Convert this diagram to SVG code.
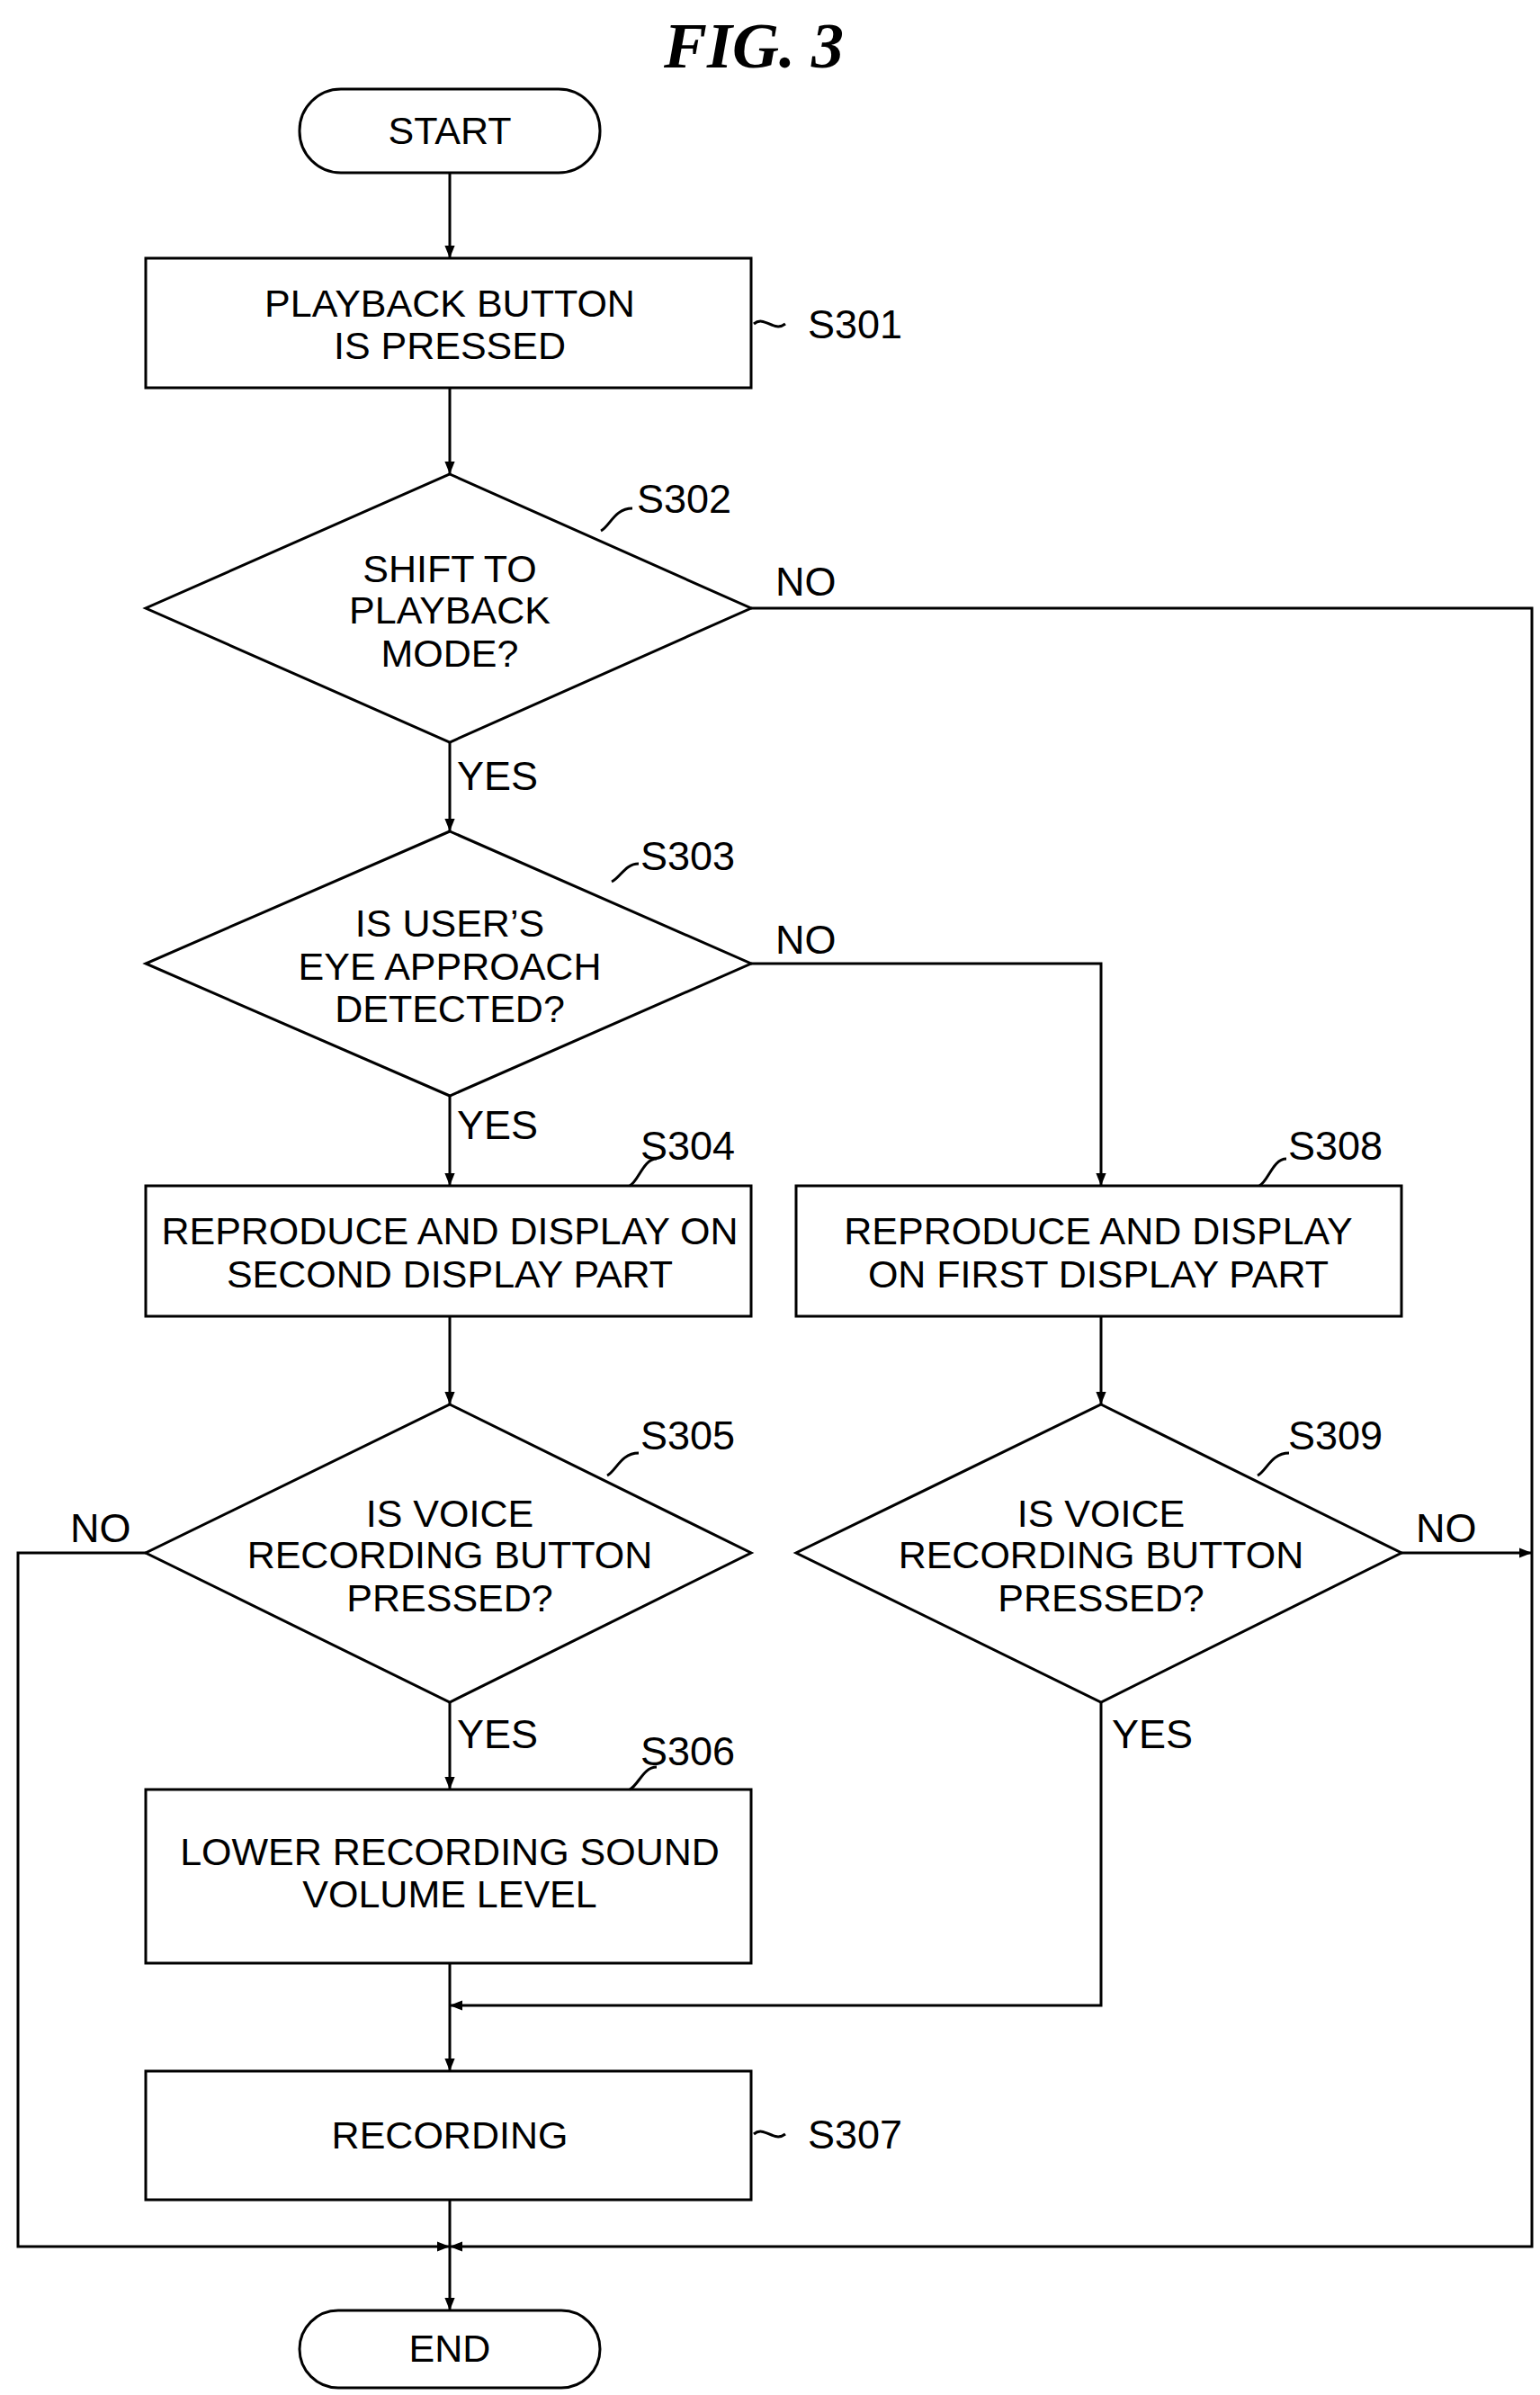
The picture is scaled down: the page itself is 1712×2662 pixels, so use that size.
<svg xmlns="http://www.w3.org/2000/svg" width="1712" height="2662" viewBox="0 0 1712 2662">
<style>
.s{fill:#fff;stroke:#000;stroke-width:3}
.l{fill:none;stroke:#000;stroke-width:3}
.t{font-family:"Liberation Sans",Arial,sans-serif;font-size:43px;text-anchor:middle;fill:#000}
.r{font-family:"Liberation Sans",Arial,sans-serif;font-size:45px;fill:#000}
</style>
<defs><marker id="b" viewBox="0 0 10 10" refX="10" refY="5" markerWidth="14" markerHeight="14" orient="auto" markerUnits="userSpaceOnUse"><path d="M0,1L10,5L0,9z" fill="#000"/></marker></defs>
<text x="838" y="75" font-family="Liberation Serif,serif" font-size="72" font-weight="bold" font-style="italic" text-anchor="middle">FIG. 3</text>
<g id="connectors">
<path class="l" d="M500,192V287" marker-end="url(#b)"/>
<path class="l" d="M500,431V527" marker-end="url(#b)"/>
<path class="l" d="M500,825V924" marker-end="url(#b)"/>
<path class="l" d="M835,1071H1224V1318" marker-end="url(#b)"/>
<path class="l" d="M500,1218V1318" marker-end="url(#b)"/>
<path class="l" d="M500,1463V1561" marker-end="url(#b)"/>
<path class="l" d="M500,1892V1989" marker-end="url(#b)"/>
<path class="l" d="M1224,1463V1561" marker-end="url(#b)"/>
<path class="l" d="M500,2182V2302" marker-end="url(#b)"/>
<path class="l" d="M1224,1892V2229H500" marker-end="url(#b)"/>
<path class="l" d="M500,2445V2568" marker-end="url(#b)"/>
<path class="l" d="M162,1726H20V2497H500" marker-end="url(#b)"/>
<path class="l" d="M835,676H1703V2497H500" marker-end="url(#b)"/>
<path class="l" d="M1558,1726H1703" marker-end="url(#b)"/>
<text class="r" x="862" y="662">NO</text>
<text class="r" x="862" y="1060">NO</text>
<text class="r" x="78" y="1714">NO</text>
<text class="r" x="1574" y="1714">NO</text>
<text class="r" x="508" y="878">YES</text>
<text class="r" x="508" y="1266">YES</text>
<text class="r" x="508" y="1943">YES</text>
<text class="r" x="1236" y="1943">YES</text>
</g>
<g id="start"><rect class="s" x="333" y="99" width="334" height="93" rx="46"/><text class="t" x="500" y="160">START</text></g>
<g id="s301"><rect class="s" x="162" y="287" width="673" height="144"/><text class="t" x="500" y="352">PLAYBACK BUTTON</text><text class="t" x="500" y="399">IS PRESSED</text><path class="l" d="M838,360c12,-10 22,10 35,0"/><text class="r" x="898" y="376">S301</text></g>
<g id="s302"><path class="s" d="M500,527L835,676L500,825L162,676z"/><text class="t" x="500" y="647">SHIFT TO</text><text class="t" x="500" y="693">PLAYBACK</text><text class="t" x="500" y="741">MODE?</text><path class="l" d="M668,590c10,-5 15,-25 35,-25"/><text class="r" x="708" y="570">S302</text></g>
<g id="s303"><path class="s" d="M500,924L835,1071L500,1218L162,1071z"/><text class="t" x="500" y="1041">IS USER’S</text><text class="t" x="500" y="1089">EYE APPROACH</text><text class="t" x="500" y="1136">DETECTED?</text><path class="l" d="M680,980c10,-5 15,-20 30,-20"/><text class="r" x="712" y="967">S303</text></g>
<g id="s304"><rect class="s" x="162" y="1318" width="673" height="145"/><text class="t" x="500" y="1383">REPRODUCE AND DISPLAY ON</text><text class="t" x="500" y="1431">SECOND DISPLAY PART</text><path class="l" d="M700,1318c10,-5 15,-30 30,-30"/><text class="r" x="712" y="1289">S304</text></g>
<g id="s308"><rect class="s" x="885" y="1318" width="673" height="145"/><text class="t" x="1221" y="1383">REPRODUCE AND DISPLAY</text><text class="t" x="1221" y="1431">ON FIRST DISPLAY PART</text><path class="l" d="M1400,1318c10,-5 15,-30 30,-30"/><text class="r" x="1432" y="1289">S308</text></g>
<g id="s305"><path class="s" d="M500,1561L835,1726L500,1892L162,1726z"/><text class="t" x="500" y="1697">IS VOICE</text><text class="t" x="500" y="1743">RECORDING BUTTON</text><text class="t" x="500" y="1791">PRESSED?</text><path class="l" d="M675,1640c10,-5 15,-25 35,-25"/><text class="r" x="712" y="1611">S305</text></g>
<g id="s309"><path class="s" d="M1224,1561L1558,1726L1224,1892L885,1726z"/><text class="t" x="1224" y="1697">IS VOICE</text><text class="t" x="1224" y="1743">RECORDING BUTTON</text><text class="t" x="1224" y="1791">PRESSED?</text><path class="l" d="M1398,1640c10,-5 15,-25 35,-25"/><text class="r" x="1432" y="1611">S309</text></g>
<g id="s306"><rect class="s" x="162" y="1989" width="673" height="193"/><text class="t" x="500" y="2073">LOWER RECORDING SOUND</text><text class="t" x="500" y="2120">VOLUME LEVEL</text><path class="l" d="M700,1989c10,-5 15,-25 30,-25"/><text class="r" x="712" y="1962">S306</text></g>
<g id="s307"><rect class="s" x="162" y="2302" width="673" height="143"/><text class="t" x="500" y="2388">RECORDING</text><path class="l" d="M838,2372c12,-10 22,10 35,0"/><text class="r" x="898" y="2388">S307</text></g>
<g id="end"><rect class="s" x="333" y="2568" width="334" height="86" rx="43"/><text class="t" x="500" y="2625">END</text></g>
</svg>
